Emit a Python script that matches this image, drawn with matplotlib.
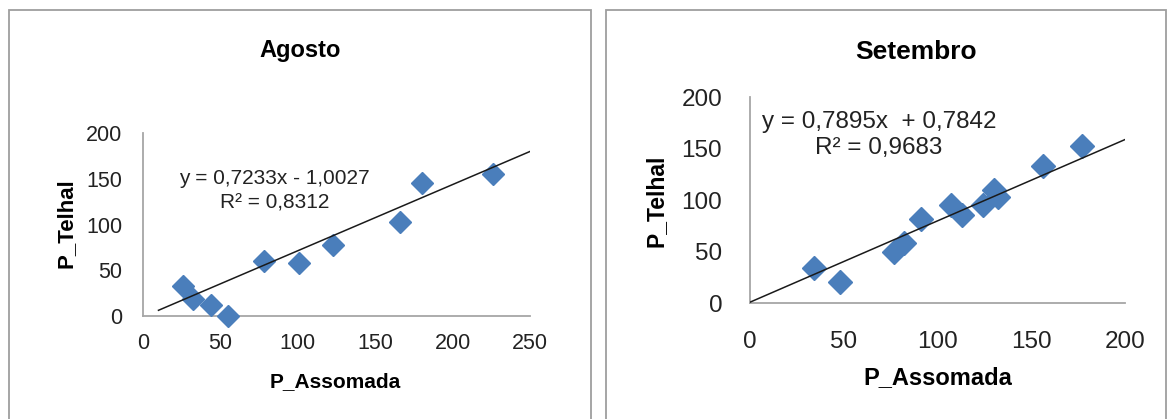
import matplotlib.pyplot as plt
from matplotlib.patches import Rectangle

# Agosto
ago_x = [26, 32, 44, 55, 78, 101, 123, 166, 180, 226]
ago_y = [33, 19, 12, 0, 60, 58, 78, 103, 145, 155]
ago_slope, ago_icpt = 0.7233, -1.0027
ago_eq = ["y = 0,7233x - 1,0027", "R² = 0,8312"]

# Setembro
set_x = [34, 48, 77, 82, 91, 107, 113, 124, 130, 132, 156, 177]
set_y = [34, 20, 50, 58, 82, 95, 85, 95, 110, 103, 133, 152]
set_slope, set_icpt = 0.7895, 0.7842
set_eq = ["y = 0,7895x  + 0,7842", "R² = 0,9683"]

W, H = 1172, 419
blue = "#4A7EBB"
grey = "#A6A6A6"

plt.rcParams['font.family'] = ['Liberation Sans', 'DejaVu Sans']

fig = plt.figure(figsize=(W / 100, H / 100), dpi=100)


def px(x, y):
    # pixel position (top-left origin) -> figure fraction
    return x / W, 1 - y / H


def panel(rect_px, ax_px, xs, ys, slope, icpt, line_x, xmax, xticks,
          title, title_xy, eq, eq_xy, xl_xy, yl_xy, fs):
    x0, y0, x1, y1 = rect_px
    fig.patches.append(Rectangle((x0 / W, 1 - (y1) / H), (x1 - x0) / W, (y1 - y0) / H,
                                 transform=fig.transFigure, fill=False,
                                 edgecolor="#9E9E9E", lw=1.3))
    l, t, r, b = ax_px
    ax = fig.add_axes([l / W, 1 - b / H, (r - l) / W, (b - t) / H])
    ax.plot(xs, ys, ls="none", marker="D", ms=fs["ms"], color=blue,
            clip_on=False, zorder=3)
    lx = [line_x[0], line_x[1]]
    ly = [slope * v + icpt for v in lx]
    ax.plot(lx, ly, color="#1a1a1a", lw=1.1, zorder=4)
    ax.set_xlim(0, xmax)
    ax.set_ylim(0, 200)
    ax.set_xticks(xticks)
    ax.set_yticks([0, 50, 100, 150, 200])
    for s in ["top", "right"]:
        ax.spines[s].set_visible(False)
    for s in ["left", "bottom"]:
        ax.spines[s].set_color(grey)
        ax.spines[s].set_linewidth(1.3)
    ax.tick_params(length=0, labelsize=fs["tick"], colors="#222222")
    ax.tick_params(axis="y", pad=fs["ypad"])
    ax.tick_params(axis="x", pad=fs["xpad"])
    ax.patch.set_alpha(0)

    fig.text(*px(*title_xy), title, ha="center", va="center",
             fontsize=fs["title"], fontweight="bold")
    fig.text(*px(*xl_xy), "P_Assomada", ha="center", va="center",
             fontsize=fs["xl"], fontweight="bold")
    fig.text(*px(*yl_xy), "P_Telhal", ha="center", va="center",
             fontsize=fs["yl"], fontweight="bold", rotation=90)
    fig.text(*px(*eq_xy[0]), eq[0], ha="center", va="center",
             fontsize=fs["eq"], color="#222222")
    fig.text(*px(*eq_xy[1]), eq[1], ha="center", va="center",
             fontsize=fs["eq"], color="#222222")
    return ax


panel((9, 10, 591, 430), (143, 133, 530, 316), ago_x, ago_y, ago_slope, ago_icpt,
      (10, 250), 250, [0, 50, 100, 150, 200, 250], "Agosto", (300, 50),
      ago_eq, [(274, 178), (275, 203)], (335, 382), (66, 223),
      dict(ms=11, tick=15.5, ypad=15, xpad=12, title=17, xl=15, yl=16, eq=15))

panel((606, 10, 1166, 430), (750, 97, 1125, 303), set_x, set_y, set_slope, set_icpt,
      (0, 200), 200, [0, 50, 100, 150, 200], "Setembro", (916, 52),
      set_eq, [(879, 122), (879, 148)], (938, 378), (656, 201),
      dict(ms=12, tick=17.5, ypad=20, xpad=20, title=19, xl=17, yl=16.5, eq=17.5))

fig.savefig("out.png", dpi=100, facecolor="white")
